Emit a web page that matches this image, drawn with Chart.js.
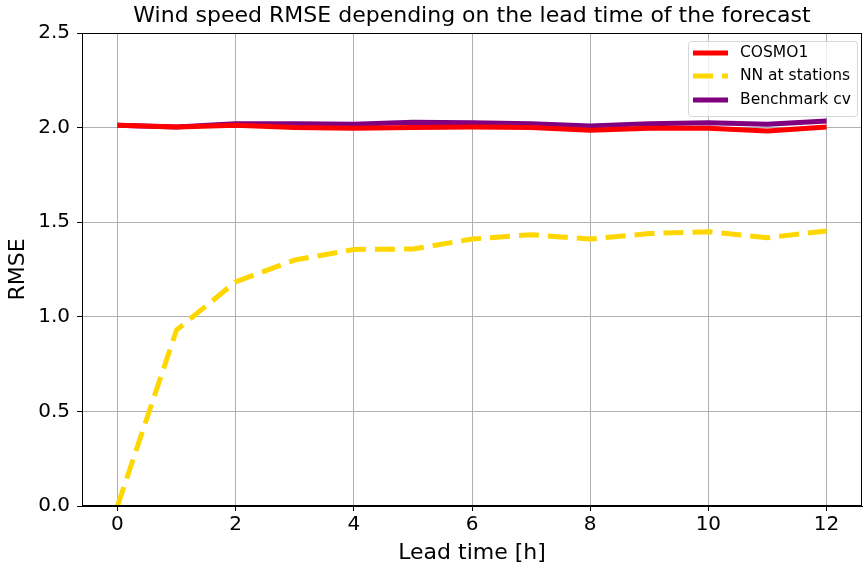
<!DOCTYPE html>
<html>
<head>
<meta charset="utf-8">
<script src="https://cdn.jsdelivr.net/npm/chart.js@4.4.1/dist/chart.umd.min.js"></script>
<style>
  html, body { margin: 0; padding: 0; background: #fff; }
  #wrap { width: 863px; height: 567px; }
</style>
</head>
<body>
<div id="wrap"><canvas id="rmseChart"></canvas></div>
<script>
// Datos
const leadTimes = [0, 1, 2, 3, 4, 5, 6, 7, 8, 9, 10, 11, 12];
const cosmo1 = [2.013, 2.003, 2.012, 2.000, 1.996, 2.000, 2.003, 2.000, 1.986, 1.996, 1.996, 1.982, 2.003];
const nnStations = [0.0, 0.93, 1.185, 1.30, 1.356, 1.358, 1.411, 1.434, 1.411, 1.44, 1.45, 1.418, 1.454];
const benchmarkCv = [2.013, 2.003, 2.021, 2.021, 2.018, 2.028, 2.025, 2.021, 2.009, 2.021, 2.025, 2.018, 2.035];
const xTicks = [0, 2, 4, 6, 8, 10, 12];
const yTicks = [0.0, 0.5, 1.0, 1.5, 2.0, 2.5];

const FONT = "'DejaVu Sans', sans-serif";

function toXY(ys) {
    return leadTimes.map((x, i) => ({ x, y: ys[i] }));
}

// ===== marco + título + leyenda estilo matplotlib =====
const mplDecor = {
    id: 'mplDecor',
    afterDraw(chart) {
        const { ctx, chartArea: a } = chart;
        ctx.save();
        ctx.strokeStyle = '#000';
        ctx.lineWidth = 1;
        ctx.strokeRect(a.left + 0.5, a.top + 0.5, a.right - a.left - 1, a.bottom - a.top - 1);

        // título
        ctx.fillStyle = '#000';
        ctx.font = `22px ${FONT}`;
        ctx.textAlign = 'center';
        ctx.textBaseline = 'middle';
        ctx.fillText('Wind speed RMSE depending on the lead time of the forecast', (a.left + a.right) / 2, 16);

        // leyenda
        const bx = 688, by = 41, bw = 169, bh = 75;
        ctx.fillStyle = 'rgba(255,255,255,0.8)';
        ctx.strokeStyle = '#d6d6d6';
        ctx.beginPath();
        ctx.roundRect(bx + 0.5, by + 0.5, bw, bh, 3);
        ctx.fill();
        ctx.stroke();
        const rows = [53, 76, 100];
        chart.data.datasets.forEach((ds, i) => {
            const y = rows[i];
            ctx.strokeStyle = ds.borderColor;
            ctx.lineWidth = ds.borderWidth;
            ctx.setLineDash(ds.borderDash || []);
            ctx.beginPath();
            ctx.moveTo(693, y);
            ctx.lineTo(728, y);
            ctx.stroke();
            ctx.setLineDash([]);
            ctx.fillStyle = '#000';
            ctx.font = `15.5px ${FONT}`;
            ctx.textAlign = 'left';
            ctx.fillText(ds.label, 740, y);
        });
        ctx.restore();
    }
};

new Chart(document.getElementById('rmseChart'), {
    type: 'line',
    data: {
        datasets: [
            { label: 'COSMO1', data: toXY(cosmo1), borderColor: '#ff0000', borderWidth: 5 },
            { label: 'NN at stations', data: toXY(nnStations), borderColor: '#ffd700', borderWidth: 5, borderDash: [20, 9] },
            { label: 'Benchmark cv', data: toXY(benchmarkCv), borderColor: '#800080', borderWidth: 5 }
        ]
    },
    options: {
        responsive: true,
        maintainAspectRatio: false,
        animation: false,
        events: [],
        layout: { padding: { top: 33, right: 1, left: 0, bottom: 0 } },
        elements: { point: { radius: 0 }, line: { tension: 0, borderCapStyle: 'butt', borderJoinStyle: 'round' } },
        plugins: {
            legend: { display: false },
            title: { display: false },
            tooltip: { enabled: false }
        },
        scales: {
            x: {
                type: 'linear',
                min: -0.6,
                max: 12.6,
                afterBuildTicks: s => { s.ticks = xTicks.map(v => ({ value: v })); },
                afterFit: s => { s.height = 61; },
                ticks: { color: '#000', font: { family: FONT, size: 20 }, padding: 2, maxRotation: 0, callback: v => String(v) },
                grid: { color: '#b0b0b0', lineWidth: 1, tickColor: '#000', tickLength: 5 },
                border: { color: '#000', width: 1 },
                title: { display: true, text: 'Lead time [h]', color: '#000', font: { family: FONT, size: 22 }, padding: { top: 0, bottom: 1 } }
            },
            y: {
                min: 0,
                max: 2.5,
                afterBuildTicks: s => { s.ticks = yTicks.map(v => ({ value: v })); },
                afterFit: s => { s.width = 82; },
                ticks: { color: '#000', font: { family: FONT, size: 20 }, padding: 7, callback: v => v.toFixed(1) },
                grid: { color: '#b0b0b0', lineWidth: 1, tickColor: '#000', tickLength: 5 },
                border: { color: '#000', width: 1 },
                title: { display: true, text: 'RMSE', color: '#000', font: { family: FONT, size: 22 }, padding: { top: 5, bottom: 0 } }
            }
        }
    },
    plugins: [mplDecor]
});
</script>
</body>
</html>
